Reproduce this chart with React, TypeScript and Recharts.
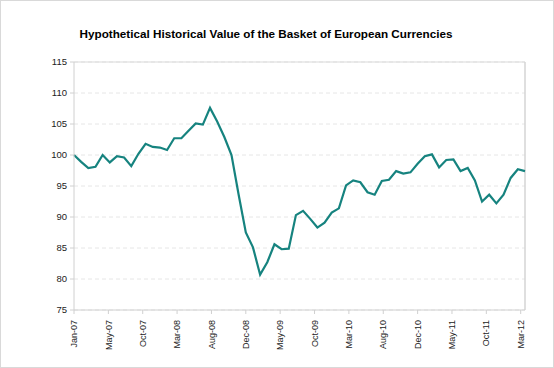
import { LineChart, Line, XAxis, YAxis, CartesianGrid, ReferenceLine } from "recharts";

// monthly index values, first point Jan-07 = 100
const values = [
  100.0, 98.9, 97.9, 98.1, 100.0, 98.8, 99.8, 99.6, 98.2, 100.2,
  101.8, 101.3, 101.2, 100.8, 102.7, 102.7, 103.9, 105.1, 104.9, 107.6,
  105.4, 102.9, 100.0, 93.6, 87.5, 85.1, 80.7, 82.7, 85.6, 84.8,
  84.9, 90.3, 91.0, 89.7, 88.3, 89.1, 90.7, 91.4, 95.1, 95.9,
  95.6, 94.0, 93.6, 95.8, 96.0, 97.4, 97.0, 97.2, 98.6, 99.8,
  100.1, 98.0, 99.2, 99.3, 97.4, 97.9, 95.9, 92.5, 93.6, 92.2,
  93.6, 96.3, 97.7, 97.4,
];

const tickLabels = [
  "Jan-07", "May-07", "Oct-07", "Mar-08", "Aug-08", "Dec-08", "May-09",
  "Oct-09", "Mar-10", "Aug-10", "Dec-10", "May-11", "Oct-11", "Mar-12",
];

const yTicks = [75, 80, 85, 90, 95, 100, 105, 110, 115];

const TICK_STEP = 4.8;
const xTicks = tickLabels.map((_, i) => i * TICK_STEP);
const data = values.map((v, i) => ({ i, v }));

const FONT = "'Liberation Sans', Arial, sans-serif";

function XTick({ x, y, index }: any) {
  return (
    <text
      x={x}
      y={y}
      transform={`rotate(-90, ${x}, ${y})`}
      textAnchor="end"
      dy="0.35em"
      fontFamily={FONT}
      fontSize={9}
      fill="#222"
    >
      {tickLabels[index]}
    </text>
  );
}

export default function App() {
  return (
    <div
      style={{
        position: "fixed",
        left: 0,
        top: 0,
        width: 554,
        height: 368,
        background: "#fff",
        boxSizing: "border-box",
        border: "1.5px solid #d9d9d9",
      }}
    >
      <div
        style={{
          position: "absolute",
          left: 0,
          width: 530,
          top: 26,
          textAlign: "center",
          fontFamily: FONT,
          fontWeight: "bold",
          fontSize: 11.7,
          color: "#000",
        }}
      >
        Hypothetical Historical Value of the Basket of European Currencies
      </div>
      <div style={{ position: "absolute", left: -1.5, top: -1.5 }}>
        <LineChart width={554} height={368} data={data} margin={{ top: 62, right: 29, left: 0, bottom: 8 }}>
          <CartesianGrid vertical={false} stroke="#e6e6e6" strokeDasharray="4 3" />
          <XAxis
            dataKey="i"
            type="number"
            domain={[0, 63]}
            ticks={xTicks}
            interval={0}
            height={50}
            stroke="#d0d0d0"
            tickSize={4}
            tickMargin={6}
            tick={<XTick />}
          />
          <YAxis
            domain={[75, 115]}
            ticks={yTicks}
            interval={0}
            width={74}
            stroke="#d0d0d0"
            tickSize={4}
            tickMargin={3}
            tick={{ fontFamily: FONT, fontSize: 9.5, fill: "#222" }}
          />
          <ReferenceLine y={115} stroke="#d9d9d9" strokeWidth={1} />
          <ReferenceLine x={63} stroke="#d4d4d4" strokeWidth={1.5} />
          <Line
            dataKey="v"
            type="linear"
            stroke="#16837f"
            strokeWidth={2.2}
            dot={false}
            isAnimationActive={false}
          />
        </LineChart>
      </div>
    </div>
  );
}
